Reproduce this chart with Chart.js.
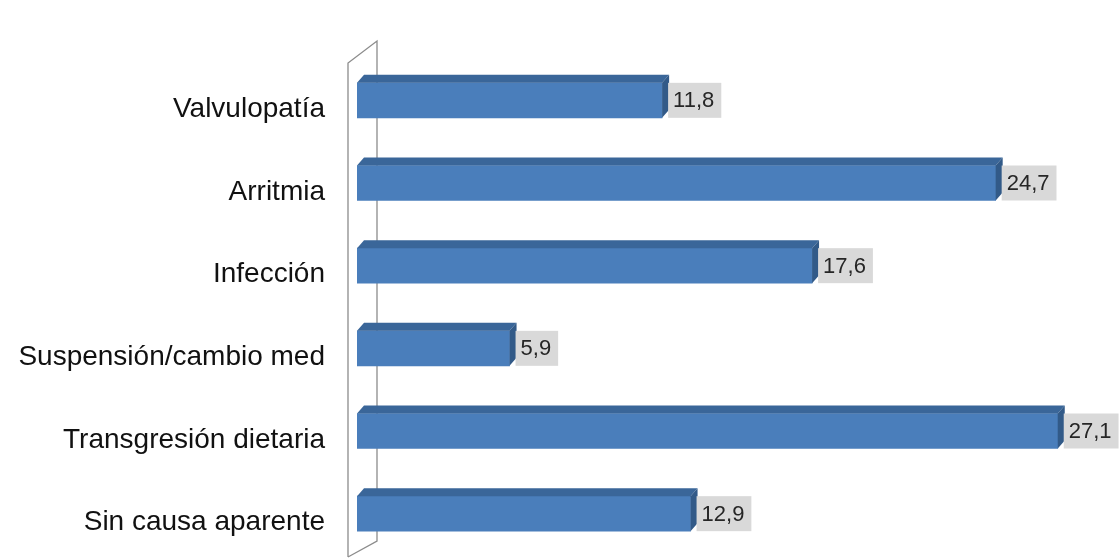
<!DOCTYPE html>
<html>
<head>
<meta charset="utf-8">
<script src="https://cdn.jsdelivr.net/npm/chart.js@4/dist/chart.umd.min.js"></script>
<style>
  body { margin: 0; background: #fff; }
  #wrap { width: 1120px; height: 560px; }
</style>
</head>
<body>
<div id="wrap"><canvas id="myChart" width="1120" height="560"></canvas></div>
<script>
// datos
let causas = ["Valvulopatía", "Arritmia", "Infección", "Suspensión/cambio med", "Transgresión dietaria", "Sin causa aparente"];
let porcentajes = [11.8, 24.7, 17.6, 5.9, 27.1, 12.9];

let depthX = 7, depthY = 8;

// pared 3D detras de las barras
let wallPlugin = {
    id: "wall",
    beforeDatasetsDraw: function(chart){
        let ctx = chart.ctx;
        let a = chart.chartArea;
        let xl = a.left - 9, xr = a.left + 20;
        ctx.save();
        ctx.strokeStyle = "#8c8c8c";
        ctx.lineWidth = 1.3;
        ctx.beginPath();
        ctx.moveTo(xl, a.bottom + 2);
        ctx.lineTo(xl, a.top + 4);
        ctx.lineTo(xr, a.top - 18);
        ctx.lineTo(xr, a.bottom - 14);
        ctx.lineTo(xl, a.bottom + 2);
        ctx.stroke();
        ctx.restore();
    }
};

// caras superior y lateral + etiquetas de valor
let bar3dPlugin = {
    id: "bar3d",
    afterDatasetsDraw: function(chart){
        let ctx = chart.ctx;
        let meta = chart.getDatasetMeta(0);
        ctx.save();
        meta.data.forEach(function(bar, i){
            let x0 = bar.base, x1 = bar.x;
            let top = bar.y - bar.height / 2, bot = bar.y + bar.height / 2;
            // cara superior
            ctx.fillStyle = "#3a6699";
            ctx.beginPath();
            ctx.moveTo(x0, top);
            ctx.lineTo(x0 + depthX, top - depthY);
            ctx.lineTo(x1 + depthX, top - depthY);
            ctx.lineTo(x1, top);
            ctx.closePath();
            ctx.fill();
            // cara lateral
            ctx.fillStyle = "#325a88";
            ctx.beginPath();
            ctx.moveTo(x1, top);
            ctx.lineTo(x1 + depthX, top - depthY);
            ctx.lineTo(x1 + depthX, bot - depthY);
            ctx.lineTo(x1, bot);
            ctx.closePath();
            ctx.fill();
            // etiqueta
            let txt = porcentajes[i].toFixed(1).replace(".", ",");
            ctx.font = "22px 'Liberation Sans', Arial, sans-serif";
            let w = ctx.measureText(txt).width;
            let bx = x1 + depthX - 1;
            ctx.fillStyle = "#d9d9d9";
            ctx.fillRect(bx, top, w + 12, bot - top);
            ctx.fillStyle = "#262626";
            ctx.textBaseline = "middle";
            ctx.textAlign = "left";
            ctx.fillText(txt, bx + 5, bar.y + 1);
        });
        ctx.restore();
    }
};

let ctx = document.getElementById("myChart").getContext("2d");
let myChart = new Chart(ctx, {
    type: "bar",
    data: {
        labels: causas,
        datasets: [{
            data: porcentajes,
            backgroundColor: "#4a7ebb",
            borderWidth: 0,
            barThickness: 35
        }]
    },
    options: {
        indexAxis: "y",
        responsive: false,
        animation: false,
        layout: { padding: { top: 59, bottom: 5, right: 39, left: 0 } },
        plugins: {
            legend: { display: false },
            tooltip: { enabled: false }
        },
        scales: {
            x: {
                display: false,
                min: 0,
                max: 28
            },
            y: {
                grid: { display: false, drawTicks: false },
                border: { display: false },
                ticks: {
                    color: "#111",
                    padding: 32,
                    labelOffset: 9,
                    font: { family: "'Liberation Sans', Arial, sans-serif", size: 28 }
                },
                afterFit: function(scale){
                    scale.width = 357;
                    scale.paddingTop = 0;
                    scale.paddingBottom = 0;
                }
            }
        }
    },
    plugins: [wallPlugin, bar3dPlugin]
});
</script>
</body>
</html>
